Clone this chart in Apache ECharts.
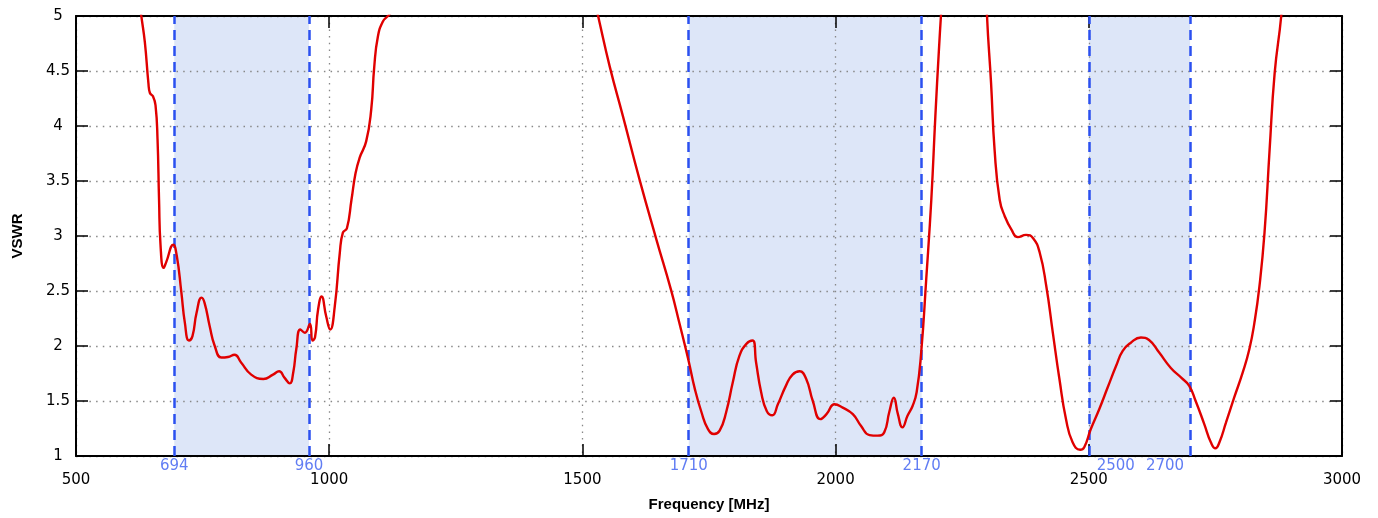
<!DOCTYPE html>
<html>
<head>
<meta charset="utf-8">
<title>VSWR</title>
<script src="https://cdn.jsdelivr.net/npm/echarts@6/dist/echarts.min.js"></script>
<style>
  html, body { margin: 0; padding: 0; background: #fff; }
  #chart { width: 1378px; height: 518px; }
</style>
</head>
<body>
<div id="chart"></div>
<script>
// 频率 (MHz)，null 表示曲线超出 5 的部分
const freq = [
  622, 629, 636, 643, 646, 652, 657, 661, 664, 667, 673, 678, 692, 699, 708, 715, 723, 730, 738, 748,
  754, 764, 774, 787, 800, 813, 826, 846, 870, 889, 901, 912, 922, 929, 935, 943, 952, 962, 967, 972,
  978, 985, 994, 1002, 1011, 1021, 1027, 1035, 1044, 1052, 1060, 1073, 1083, 1089, 1096, 1106, 1116, 1128,
  1300,
  1525, 1531, 1554, 1580, 1613, 1646, 1675, 1692, 1709, 1722, 1735, 1748, 1760, 1771, 1784, 1797, 1810,
  1824, 1836, 1843, 1853, 1864, 1875, 1886, 1902, 1915, 1929, 1942, 1955, 1970, 1982, 1998, 2014, 2034,
  2050, 2067, 2083, 2096, 2106, 2115, 2123, 2132, 2142, 2152, 2160, 2169, 2179, 2189, 2197, 2204, 2208, 2212,
  2260,
  2298, 2299, 2307, 2314, 2324, 2334, 2347, 2360, 2376, 2390, 2403, 2416, 2429, 2442, 2455, 2468, 2483,
  2491, 2504, 2521, 2537, 2554, 2567, 2583, 2603, 2619, 2639, 2662, 2683, 2698, 2711, 2728, 2741, 2750,
  2758, 2771, 2787, 2804, 2817, 2827, 2837, 2847, 2857, 2867, 2880, 2884
];
const vswr = [
  5.25, 5.0, 4.76, 4.39, 4.30, 4.27, 4.19, 3.88, 3.33, 2.91, 2.71, 2.76, 2.92, 2.82, 2.49, 2.21, 2.05, 2.09, 2.30, 2.44,
  2.39, 2.18, 2.00, 1.895, 1.90, 1.92, 1.85, 1.74, 1.70, 1.74, 1.77, 1.71, 1.66, 1.76, 1.97, 2.15, 2.12, 2.20, 2.05, 2.08,
  2.33, 2.45, 2.27, 2.15, 2.36, 2.85, 3.03, 3.07, 3.33, 3.57, 3.71, 3.86, 4.15, 4.54, 4.81, 4.95, 5.0, 5.06,
  null,
  5.12, 5.0, 4.54, 4.09, 3.51, 2.97, 2.51, 2.20, 1.88, 1.61, 1.40, 1.245, 1.20, 1.23, 1.40, 1.67, 1.91,
  2.02, 2.05, 1.85, 1.58, 1.41, 1.37, 1.47, 1.64, 1.74, 1.77, 1.70, 1.50, 1.335, 1.38, 1.47, 1.44, 1.38,
  1.275, 1.19, 1.185, 1.215, 1.40, 1.53, 1.38, 1.26, 1.365, 1.455, 1.58, 1.94, 2.61, 3.33, 4.09, 4.69, 5.0, 5.3,
  null,
  5.2, 5.0, 4.39, 3.78, 3.33, 3.18, 3.06, 2.99, 3.01, 2.98, 2.85, 2.545, 2.12, 1.70, 1.335, 1.125, 1.057,
  1.08, 1.245, 1.43, 1.62, 1.82, 1.955, 2.03, 2.077, 2.055, 1.94, 1.80, 1.71, 1.64, 1.50, 1.29, 1.125, 1.07,
  1.125, 1.305, 1.53, 1.76, 1.97, 2.21, 2.545, 3.03, 3.78, 4.48, 5.0, 5.3
];
// 频段
const bandStart = [694, 1710, 2500];
const bandEnd = [960, 2170, 2700];
const bandEdges = [694, 960, 1710, 2170, 2500, 2700];
const edgeLabelShift = [0, 0, 0, 0, 27, -25];
// 坐标轴
const xRange = [500, 3000];
const xStep = 500;
const yRange = [1, 5];
const yStep = 0.5;

const font = "'Liberation Sans', Arial, sans-serif";
const tickFont = "'DejaVu Sans', sans-serif";
const chart = echarts.init(document.getElementById("chart"));

const axisCommon = {
  type: "value",
  z: 3,
  axisLine: { show: true, lineStyle: { color: "#000", width: 2 } },
  axisTick: { show: true, inside: true, length: 12, lineStyle: { color: "#000", width: 1.5 } },
  splitLine: { show: false },
};
const gridDots = { show: true, lineStyle: { color: "#888", width: 1.3, type: [1.5, 5.2] } };

const option = {
  animation: false,
  textStyle: { fontFamily: font },
  grid: { left: 76, right: 36, top: 16, bottom: 62 },
  xAxis: [
    {
      ...axisCommon,
      position: "bottom",
      min: xRange[0],
      max: xRange[1],
      interval: xStep,
      splitLine: gridDots,
      axisLabel: {
        color: "#000",
        fontSize: 15,
        margin: 17,
        fontFamily: tickFont,
        formatter: (v) => String(v),
      },
      name: "Frequency [MHz]",
      nameLocation: "middle",
      nameGap: 41,
      nameTextStyle: { color: "#000", fontSize: 15, fontWeight: "bold", fontFamily: font },
    },
    {
      ...axisCommon,
      position: "top",
      min: xRange[0],
      max: xRange[1],
      interval: xStep,
      axisLabel: { show: false },
    },
  ],
  yAxis: [
    {
      ...axisCommon,
      position: "left",
      min: yRange[0],
      max: yRange[1],
      interval: yStep,
      splitLine: gridDots,
      axisLabel: {
        color: "#000",
        fontSize: 15,
        margin: 18,
        align: "center",
        fontFamily: tickFont,
        formatter: (v) => String(v),
      },
      name: "VSWR",
      nameLocation: "middle",
      nameGap: 51,
      nameTextStyle: { color: "#000", fontSize: 15, fontWeight: "bold", fontFamily: font },
    },
    {
      ...axisCommon,
      position: "right",
      min: yRange[0],
      max: yRange[1],
      interval: yStep,
      axisLabel: { show: false },
    },
  ],
  series: [
    {
      // 频段底色
      type: "line",
      z: 1,
      data: [],
      silent: true,
      markArea: {
        silent: true,
        itemStyle: { color: "#dde6f8" },
        data: bandStart.map((s, i) => [{ xAxis: s }, { xAxis: bandEnd[i] }]),
      },
    },
    {
      // 频段边界虚线和蓝色标注
      type: "scatter",
      z: 4,
      symbolSize: 0,
      silent: true,
      data: bandEdges.map((f, i) => ({
        value: [f, yRange[0]],
        label: { offset: [edgeLabelShift[i], 0] },
      })),
      label: {
        show: true,
        position: "bottom",
        distance: 3,
        color: "#3a5cf0",
        fontSize: 15,
        fontFamily: tickFont,
        formatter: (p) => String(p.value[0]),
      },
      markLine: {
        silent: true,
        symbol: "none",
        label: { show: false },
        lineStyle: { color: "#2b50f0", width: 2.5, type: [10, 6] },
        data: bandEdges.map((f) => ({ xAxis: f })),
      },
    },
    {
      name: "VSWR",
      type: "line",
      z: 5,
      data: freq.map((f, i) => [f, vswr[i]]),
      showSymbol: false,
      smooth: 0.5,
      connectNulls: false,
      clip: true,
      lineStyle: { color: "#e00000", width: 2.4 },
    },
  ],
};
chart.setOption(option);
</script>
</body>
</html>
